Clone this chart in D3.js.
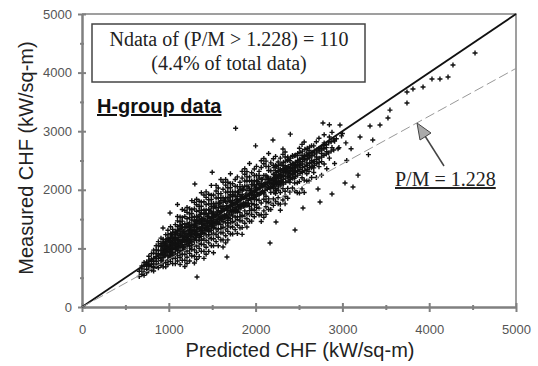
<!DOCTYPE html>
<html lang="en">
<head>
<meta charset="utf-8">
<script src="https://d3js.org/d3.v7.min.js"></script>
<style>
body { margin: 0; background: #fff; }
.axis text { font: 13px Arial, "Liberation Sans", sans-serif; fill: #555; }
.axis path, .axis line { stroke: #808080; stroke-width: 2; fill: none; }
</style>
</head>
<body>
<div id="chart"></div>
<script>
var columnP = [660, 690, 715, 745, 770, 800, 825, 855, 880, 910, 935, 965, 990, 1020, 1045, 1075, 1100, 1130, 1155, 1185,
  1210, 1240, 1265, 1295, 1320, 1350, 1375, 1405, 1430, 1460, 1490, 1515, 1545, 1570, 1600, 1625, 1655, 1680, 1710, 1735,
  1765, 1790, 1820, 1845, 1875, 1900, 1930, 1955, 1985, 2010, 2040, 2065, 2095, 2120, 2150, 2175, 2205, 2230, 2260, 2285,
  2315, 2340, 2370, 2395, 2425, 2450, 2480, 2505, 2535, 2560, 2590, 2615, 2645, 2670, 2700, 2730, 2760, 2790, 2820, 2850,
  2880, 2910, 2950, 2990];
var columnM = [
  [520, 610], [560, 650, 700], [600, 700, 540, 760], [700, 645, 770, 585, 730], [730, 800, 630, 865, 705],
  [820, 690, 910, 730, 780, 630], [780, 920, 735, 830, 670, 970, 615], [860, 780, 975, 690, 910, 825, 1045],
  [870, 965, 735, 1050, 830, 905, 670, 1115], [965, 790, 1080, 845, 910, 710, 1030, 1175],
  [895, 1085, 840, 970, 755, 1155, 685, 1025, 1110], [990, 885, 1145, 760, 1050, 945, 1235, 685, 1095],
  [985, 1115, 805, 1230, 935, 1035, 725, 1310, 870, 1165], [1100, 875, 1250, 945, 1030, 775, 1185, 1370, 845, 1130],
  [1005, 1240, 935, 1095, 830, 1325, 740, 1165, 1275, 1040, 880], [1110, 980, 1295, 830, 1185, 1055, 1405, 740, 1240, 905, 1145],
  [1090, 1245, 880, 1375, 1035, 1150, 785, 1470, 960, 1300, 1055, 1545],
  [1220, 960, 1395, 1040, 1140, 845, 1320, 1535, 925, 1260, 725, 1455],
  [1100, 1365, 1020, 1200, 895, 1465, 795, 1280, 1405, 1140, 960, 1665, 1525],
  [1210, 1065, 1420, 900, 1295, 1150, 1545, 795, 1355, 985, 1250, 690, 1645],
  [1190, 1360, 955, 1505, 1125, 1255, 850, 1615, 1040, 1420, 1145, 1700, 745],
  [1325, 1045, 1525, 1130, 1240, 915, 1435, 1675, 1000, 1370, 785, 1590, 1090],
  [1200, 1485, 1110, 1310, 980, 1595, 870, 1395, 1530, 1245, 1045, 1815, 1660],
  [1315, 1155, 1540, 975, 1405, 1245, 1675, 865, 1470, 1065, 1360, 750, 1785],
  [1290, 1475, 1040, 1635, 1225, 1360, 930, 1745, 1135, 1545, 1245, 1840, 815],
  [1435, 1140, 1645, 1230, 1345, 1000, 1550, 1805, 1090, 1485, 860, 1715, 1185],
  [1300, 1605, 1205, 1415, 1070, 1720, 950, 1510, 1650, 1345, 1140, 1950, 1790],
  [1420, 1255, 1655, 1065, 1515, 1350, 1795, 950, 1585, 1160, 1465, 830, 1910],
  [1395, 1585, 1135, 1750, 1325, 1465, 1020, 1870, 1230, 1655, 1350, 1965, 900],
  [1545, 1235, 1760, 1330, 1450, 1095, 1665, 1925, 1190, 1595, 950, 1830, 1285],
  [1405, 1715, 1310, 1525, 1165, 1835, 1045, 1620, 1760, 1450, 1235, 2075, 1905],
  [1525, 1355, 1765, 1165, 1620, 1450, 1910, 1045, 1690, 1260, 1570, 925],
  [1500, 1695, 1235, 1860, 1430, 1575, 1115, 1980, 1335, 1765, 1455, 2075],
  [1645, 1335, 1860, 1430, 1550, 1190, 1765, 2030, 1285, 1695, 1045, 1935],
  [1505, 1815, 1405, 1625, 1265, 1935, 1145, 1720, 1865, 1550, 1335, 2175],
  [1455, 1865, 1265, 1720, 1550, 2010, 1145, 1790, 1360, 1670, 1025, 2130],
  [1795, 1335, 1960, 1530, 1675, 1215, 2080, 1435, 1865, 1555, 2175, 1095],
  [1435, 1960, 1530, 1650, 1290, 1865, 2130, 1385, 1795, 1145, 2035, 1480],
  [1915, 1505, 1725, 1365, 2035, 1245, 1820, 1965, 1650, 1435, 2275, 2105],
  [1725, 1555, 1965, 1365, 1820, 1650, 2105, 1245, 1890, 1460, 1770],
  [1700, 1890, 1440, 2060, 1630, 1775, 1320, 2175, 1535, 1965, 1655],
  [1845, 1540, 2055, 1630, 1750, 1395, 1960, 2220, 1490, 1890, 1255],
  [1705, 2010, 1610, 1820, 1470, 2130, 1350, 1915, 2055, 1750, 1540],
  [2055, 1470, 1915, 1755, 2200, 1355, 1985, 1565, 1870, 1240, 2315],
  [1545, 2150, 1730, 1870, 1430, 2265, 1640, 2060, 1755, 2360],
  [2150, 1735, 1850, 1505, 2060, 2310, 1595, 1990, 1365, 2220],
  [1715, 1920, 1575, 2220, 1460, 2015, 2150, 1850, 1645, 2450],
  [1925, 1765, 2150, 1580, 2015, 1855, 2290, 1465, 2085, 1670],
  [1900, 2085, 1650, 2245, 1835, 1970, 1540, 2355, 1745, 2155],
  [2040, 1745, 2245, 1835, 1950, 1610, 2155, 2400, 1700, 2085],
  [1910, 2200, 1820, 2020, 1685, 2315, 1570, 2110, 2245],
  [2110, 1955, 2380, 1575, 2180, 1775, 2065, 1460, 2495],
  [1930, 2065, 1640, 2445, 1840, 2245, 1955, 2535, 1530],
  [2045, 1710, 2245, 2490, 1800, 2180, 1580, 2400, 1890],
  [1780, 2395, 1665, 2200, 2330, 2045, 1845, 2620],
  [2105, 1955, 2325, 1775, 2195, 2040, 2460, 1665],
  [2090, 2265, 1845, 2420, 2020, 2155, 1735, 2530],
  [2220, 1935, 2415, 2020, 2130, 1800, 2325, 2570],
  [2085, 2370, 1995, 2195, 1865, 2475, 1760],
  [2125, 2540, 1755, 2345, 1955, 2235, 1650],
  [2240, 1825, 2605, 2020, 2410, 2130, 2695],
  [1890, 2410, 2645, 1975, 2345, 1760, 2560],
  [2560, 1855, 2370, 2500, 2220, 2025],
  [2280, 2130, 2495, 1960, 2365, 2215],
  [2265, 2435, 2030, 2585, 2200, 2330],
  [2390, 2115, 2580, 2200, 2305, 1985],
  [1950, 2460, 2585, 2310, 2120],
  [2710, 1945, 2520, 2140, 2415],
  [2015, 2775, 2205, 2585, 2310],
  [2585, 2815, 2165, 2520, 1955],
  [2630, 2275, 2460, 2150],
  [2315, 2670, 2150, 2545],
  [2210, 2750, 2375, 2500],
  [2295, 2750, 2375, 2480],
  [2560, 2210, 2820],
  [2395, 2700, 2880],
  [2620, 2250, 2480],
  [2800, 2440, 2940],
  [2650, 2360], [2900, 2540], [2720, 2980], [2450, 2830], [2700], [2920]
];
// extra points in the dark core of the cloud
var coreP = [922, 952, 978, 1008, 1033, 1062, 1088, 1115, 1142, 1170, 1198, 1225, 1252, 1280, 1308, 1335, 1362, 1390,
  1418, 1445, 1475, 1502, 1530, 1558, 1585, 1612, 1640, 1668, 1695, 1722, 1750, 1778, 1805, 1832, 1860, 1888, 1915,
  1942, 1970, 1998, 2025, 2052, 2080, 2108, 2135, 2162, 2190, 2218, 2245, 2272, 2300];
var coreM = [
  [900, 1050, 800, 970], [1000, 880, 1090, 940], [1060, 930, 1150, 1010], [970, 1120, 1040, 880],
  [1080, 990, 1190, 930], [1010, 1140, 1230, 1090], [1160, 1050, 990, 1260], [1080, 1190, 1320, 1010],
  [1230, 1110, 1060, 1340], [1130, 1290, 1200, 1020], [1250, 1110, 1370, 1180], [1170, 1300, 1080, 1410],
  [1350, 1210, 1120, 1290], [1230, 1400, 1320, 1150], [1380, 1260, 1460, 1190], [1290, 1420, 1230, 1530],
  [1460, 1330, 1250, 1580], [1340, 1500, 1420, 1270], [1470, 1360, 1600, 1300], [1390, 1540, 1480, 1340],
  [1510, 1420, 1650, 1370], [1440, 1590, 1540, 1380], [1570, 1460, 1720, 1400], [1490, 1620, 1590, 1440],
  [1610, 1520, 1770, 1470], [1540, 1680, 1640, 1490], [1660, 1570, 1820, 1520], [1590, 1730, 1690, 1540],
  [1710, 1620, 1870, 1570], [1640, 1780, 1740, 1590], [1760, 1670, 1910, 1620], [1690, 1830, 1790, 1640],
  [1810, 1720, 1960, 1670], [1740, 1880, 1840, 1690], [1860, 1770, 2010, 1720], [1790, 1930, 1890, 1740],
  [1910, 1820, 2050, 1770], [1840, 1980, 1940], [1960, 1870, 2090], [1890, 2030, 1990], [2010, 1920, 2140],
  [1940, 2080, 2040], [2060, 1970, 2180], [1990, 2120, 2090], [2100, 2010, 2220], [2030, 2160, 2120],
  [2150, 2060], [2080, 2210], [2190, 2100], [2120, 2250], [2230, 2140]
];
// extra points in the upper part of the cloud, along the diagonal
var upperP = [2212, 2238, 2265, 2292, 2320, 2348, 2375, 2402, 2430, 2458, 2485, 2512, 2540, 2568, 2595, 2622, 2650,
  2678, 2705, 2732, 2760, 2788, 2815, 2842, 2870, 2900, 2930, 2960, 3000, 3040];
var upperM = [
  [2260, 2050, 2180, 2380, 1960, 2120], [2100, 2290, 2210, 1990, 2400, 2150], [2310, 2140, 2230, 2050, 2420, 2190],
  [2160, 2330, 2250, 2080, 2440, 2220], [2360, 2180, 2290, 2100, 2470, 2230], [2200, 2380, 2310, 2130, 2490, 2270],
  [2400, 2230, 2330, 2150, 2520, 2290], [2250, 2430, 2360, 2180, 2540, 2310], [2450, 2280, 2380, 2200, 2570, 2340],
  [2300, 2470, 2410, 2230, 2590, 2370], [2500, 2330, 2430, 2250, 2620, 2390], [2350, 2520, 2460, 2280, 2640, 2420],
  [2540, 2380, 2480, 2300, 2660, 2440], [2400, 2570, 2510, 2330, 2690], [2590, 2420, 2530, 2350, 2710],
  [2450, 2610, 2560, 2380, 2730], [2640, 2470, 2580, 2400], [2490, 2660, 2610, 2420], [2680, 2520, 2630, 2450],
  [2540, 2710, 2660, 2470], [2730, 2560, 2680], [2590, 2760, 2700], [2770, 2610, 2720], [2630, 2800],
  [2820, 2660], [2680, 2850], [2870], [2720], [2960], [2800]
];
// scattered points away from the main cloud [predicted, measured]
var outliers = [[4528, 4334], [4274, 4130], [4217, 3925], [4124, 3890], [4032, 3890], [3929, 3754], [3813, 3720],
  [3744, 3670], [3744, 3480], [3548, 3360], [3525, 3225], [3433, 3106], [3318, 3090], [3180, 2250], [3203, 2900],
  [3030, 2116], [3122, 2048], [2880, 1928], [2719, 2014], [2742, 1792], [2546, 1689], [2454, 1314], [2235, 1450],
  [2166, 1092], [1014, 1604], [933, 1348], [1670, 853], [1325, 512], [1770, 3050], [2972, 3106], [2850, 3110],
  [3100, 2700], [3350, 2850], [3050, 2500], [3300, 2600], [2400, 2950], [2200, 2850], [2000, 2750], [1500, 2300],
  [1300, 2100], [1100, 1750], [2776, 3140]];

var majorTicks = [0, 1000, 2000, 3000, 4000, 5000];
var minorTicks = [500, 1500, 2500, 3500, 4500];
var ratioPM = 1.228;
var noteLines = ["Ndata of (P/M > 1.228) = 110", "(4.4% of total data)"];

var width = 538, height = 366;
var x = d3.scaleLinear().domain([0, 5000]).range([82, 516]);
var y = d3.scaleLinear().domain([0, 5000]).range([307, 14]);
var fmt = d3.format("d");

var svg = d3.select("#chart").append("svg")
  .attr("width", width)
  .attr("height", height);

// frame top and right
svg.append("path")
  .attr("d", "M" + x(0) + "," + y(5000) + "H" + x(5000) + "V" + y(0))
  .attr("fill", "none")
  .attr("stroke", "#808080")
  .attr("stroke-width", 1.5);

// axes
var yAxis = svg.append("g").attr("class", "axis")
  .attr("transform", "translate(" + x(0) + ",0)")
  .call(d3.axisLeft(y).tickValues(majorTicks).tickFormat(fmt).tickSize(4).tickSizeOuter(0).tickPadding(6));
yAxis.selectAll(".tick line").attr("x1", 4).attr("x2", -4);
var yMinor = svg.append("g").attr("class", "axis")
  .attr("transform", "translate(" + x(0) + ",0)")
  .call(d3.axisLeft(y).tickValues(minorTicks).tickFormat("").tickSize(2).tickSizeOuter(0));
yMinor.selectAll(".tick line").attr("x1", 2).attr("x2", -2);

var xAxis = svg.append("g").attr("class", "axis")
  .attr("transform", "translate(0," + y(0) + ")")
  .call(d3.axisBottom(x).tickValues(majorTicks).tickFormat(fmt).tickSize(4).tickSizeOuter(0).tickPadding(14));
xAxis.selectAll(".tick line").attr("y1", -4).attr("y2", 5);
var xMinor = svg.append("g").attr("class", "axis")
  .attr("transform", "translate(0," + y(0) + ")")
  .call(d3.axisBottom(x).tickValues(minorTicks).tickFormat("").tickSize(2).tickSizeOuter(0));
xMinor.selectAll(".tick line").attr("y1", -2).attr("y2", 3);

// scatter points
var points = [];
columnP.forEach(function(p, i) {
  columnM[i].forEach(function(m) { points.push([p, m]); });
});
coreP.forEach(function(p, i) {
  coreM[i].forEach(function(m) { points.push([p, m]); });
});
upperP.forEach(function(p, i) {
  upperM[i].forEach(function(m) { points.push([p, m]); });
});
outliers.forEach(function(d) { points.push(d); });

svg.append("g").selectAll("path")
  .data(points)
  .enter().append("path")
  .attr("transform", function(d) { return "translate(" + x(d[0]) + "," + y(d[1]) + ")"; })
  .attr("d", "M-2.5,0H2.5M0,-2.5V2.5")
  .attr("stroke", "#111")
  .attr("stroke-width", 1.4);

// P/M = 1 line
svg.append("line")
  .attr("x1", x(0)).attr("y1", y(0))
  .attr("x2", x(5000)).attr("y2", y(5000))
  .attr("stroke", "#111")
  .attr("stroke-width", 1.8);

// P/M = 1.228 line
svg.append("line")
  .attr("x1", x(0)).attr("y1", y(0))
  .attr("x2", x(5000)).attr("y2", y(5000 / ratioPM))
  .attr("stroke", "#999")
  .attr("stroke-width", 1)
  .attr("stroke-dasharray", "10,4");

// note box
svg.append("rect")
  .attr("x", 92).attr("y", 24)
  .attr("width", 273).attr("height", 58)
  .attr("fill", "#fff")
  .attr("stroke", "#444")
  .attr("stroke-width", 1.5);
svg.selectAll(".note")
  .data(noteLines)
  .enter().append("text")
  .attr("class", "note")
  .attr("x", 229)
  .attr("y", function(d, i) { return 46 + i * 24; })
  .attr("text-anchor", "middle")
  .style("font", "20px 'Liberation Serif', 'Times New Roman', serif")
  .style("fill", "#222")
  .text(function(d) { return d; });

svg.append("text")
  .attr("x", 97).attr("y", 113)
  .style("font", "bold 20px Arial, 'Liberation Sans', sans-serif")
  .style("text-decoration", "underline")
  .style("fill", "#111")
  .text("H-group data");

// arrow
svg.append("line")
  .attr("x1", 444).attr("y1", 166)
  .attr("x2", 425).attr("y2", 136)
  .attr("stroke", "#444")
  .attr("stroke-width", 1.5);
svg.append("path")
  .attr("d", "M417,123L431,133L420,140Z")
  .attr("fill", "#aaa")
  .attr("stroke", "#444")
  .attr("stroke-width", 1);

svg.append("text")
  .attr("x", 395).attr("y", 186)
  .style("font", "20px 'Liberation Serif', 'Times New Roman', serif")
  .style("text-decoration", "underline")
  .style("fill", "#222")
  .text("P/M = " + ratioPM);

// axis titles
svg.append("text")
  .attr("x", 300).attr("y", 357)
  .attr("text-anchor", "middle")
  .style("font", "20px Arial, 'Liberation Sans', sans-serif")
  .style("fill", "#222")
  .text("Predicted CHF (kW/sq-m)");

svg.append("text")
  .attr("transform", "translate(33,158) rotate(-90)")
  .attr("text-anchor", "middle")
  .style("font", "20px Arial, 'Liberation Sans', sans-serif")
  .style("fill", "#222")
  .text("Measured CHF (kW/sq-m)");
</script>
</body>
</html>
